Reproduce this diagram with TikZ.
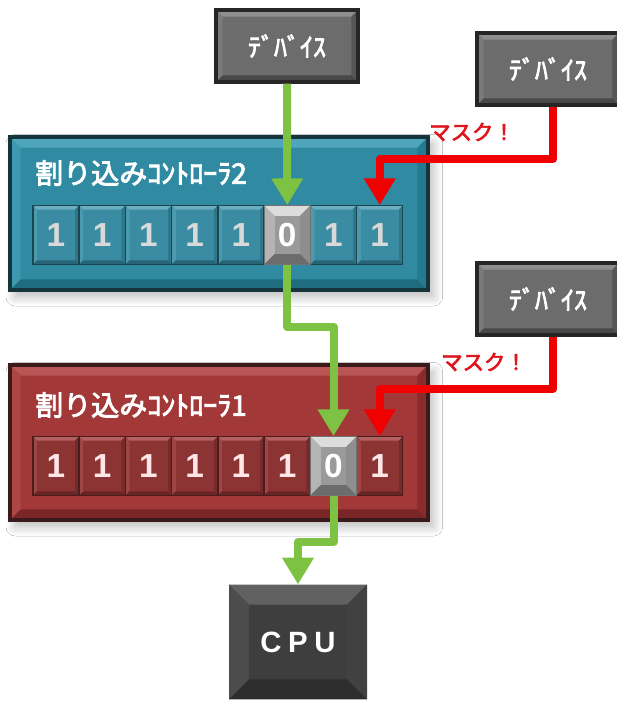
\documentclass[tikz,border=0pt]{standalone}
\usepackage{fontspec}
\setmainfont{Liberation Sans}
\newfontfamily\cjk{Noto Sans CJK JP}[FakeBold=3]
\usetikzlibrary{arrows.meta,shadows.blur}
\definecolor{devline}{HTML}{262626}
\definecolor{devface}{HTML}{6C6C6C}
\definecolor{devtop}{HTML}{8E8E8E}
\definecolor{devleft}{HTML}{7A7A7A}
\definecolor{devright}{HTML}{555555}
\definecolor{devbot}{HTML}{484848}
\definecolor{tface}{HTML}{2F8AA2}
\definecolor{ttop}{HTML}{4FA6BC}
\definecolor{tleft}{HTML}{3D99B0}
\definecolor{tright}{HTML}{257A8F}
\definecolor{tbot}{HTML}{206C7F}
\definecolor{tline}{HTML}{15343C}
\definecolor{tcface}{HTML}{3A8CA3}
\definecolor{tctop}{HTML}{6AAEC0}
\definecolor{tcleft}{HTML}{4C9AAE}
\definecolor{tcright}{HTML}{2E7689}
\definecolor{tcbot}{HTML}{276475}
\definecolor{tcline}{HTML}{1B4650}
\definecolor{rface}{HTML}{A23838}
\definecolor{rtop}{HTML}{BA5656}
\definecolor{rleft}{HTML}{AE4646}
\definecolor{rright}{HTML}{8A2C2C}
\definecolor{rbot}{HTML}{7A2626}
\definecolor{rline}{HTML}{3A1A1A}
\definecolor{rcface}{HTML}{8C3333}
\definecolor{rctop}{HTML}{B26060}
\definecolor{rcleft}{HTML}{9E4646}
\definecolor{rcright}{HTML}{772A2A}
\definecolor{rcbot}{HTML}{692424}
\definecolor{rcline}{HTML}{4A1C1C}
\definecolor{ztop}{HTML}{DCDCDC}
\definecolor{zleft}{HTML}{B4B4B4}
\definecolor{zright}{HTML}{8E8E8E}
\definecolor{zbot}{HTML}{6C6C6C}
\definecolor{zface}{HTML}{9A9A9A}
\definecolor{ctop}{HTML}{616161}
\definecolor{cleft}{HTML}{4C4C4C}
\definecolor{cright}{HTML}{414141}
\definecolor{cbot}{HTML}{2E2E2E}
\definecolor{cface}{HTML}{3E3E3E}
\definecolor{garr}{HTML}{7DC242}
\definecolor{rarr}{HTML}{F00000}
\definecolor{masktxt}{HTML}{E0141B}
\begin{document}
\begin{tikzpicture}[x=0.75pt,y=-0.75pt,
 bev/.style n args={6}{path picture={
   \coordinate (bvA) at (path picture bounding box.north west);
   \coordinate (bvB) at (path picture bounding box.north east);
   \coordinate (bvC) at (path picture bounding box.south east);
   \coordinate (bvD) at (path picture bounding box.south west);
   \coordinate (bva) at ([xshift=#1,yshift=-#1]bvA);
   \coordinate (bvb) at ([xshift=-#1,yshift=-#1]bvB);
   \coordinate (bvc) at ([xshift=-#1,yshift=#1]bvC);
   \coordinate (bvd) at ([xshift=#1,yshift=#1]bvD);
   \fill[#2] (bvA)--(bvB)--(bvb)--(bva)--cycle;
   \fill[#3] (bvA)--(bva)--(bvd)--(bvD)--cycle;
   \fill[#4] (bvB)--(bvb)--(bvc)--(bvC)--cycle;
   \fill[#5] (bvD)--(bvd)--(bvc)--(bvC)--cycle;
   \fill[#6] (bva) rectangle (bvc);
 }},
 devbox/.style={minimum width=106.5pt, minimum height=54pt, inner sep=0pt,
   draw=devline, line width=2.5pt, fill=devface,
   bev={5pt}{devtop}{devleft}{devright}{devbot}{devface},
   text=white, font=\cjk\fontsize{19.5}{20}\selectfont},
 softshadow/.style={blur shadow={shadow xshift=4pt, shadow yshift=-5pt,
   shadow blur radius=7pt, shadow blur steps=14, shadow opacity=28}},
 ctrlT/.style={minimum width=313.5pt, minimum height=114.75pt, inner sep=0pt,
   draw=tline, line width=2.5pt, fill=tface,
   bev={8pt}{ttop}{tleft}{tright}{tbot}{tface}, softshadow},
 ctrlR/.style={minimum width=313.5pt, minimum height=116.25pt, inner sep=0pt,
   draw=rline, line width=2.5pt, fill=rface,
   bev={8pt}{rtop}{rleft}{rright}{rbot}{rface}, softshadow},
 title/.style={anchor=west, inner sep=0pt, text=white, font=\cjk\fontsize{21}{22}\selectfont},
 cellT/.style={minimum width=34.5pt, minimum height=44pt, inner sep=0pt,
   draw=tcline, line width=0.8pt, fill=tcface,
   bev={3pt}{tctop}{tcleft}{tcright}{tcbot}{tcface},
   text=black!15, font=\bfseries\fontsize{25}{25}\selectfont},
 cellR/.style={minimum width=34.5pt, minimum height=44pt, inner sep=0pt,
   draw=rcline, line width=0.8pt, fill=rcface,
   bev={3pt}{rctop}{rcleft}{rcright}{rcbot}{rcface},
   text=red!10, font=\bfseries\fontsize{25}{25}\selectfont},
 zero/.style={minimum width=34.5pt, minimum height=44pt, inner sep=0pt,
   draw=black!55, line width=0.8pt, fill=zface,
   bev={8pt}{ztop}{zleft}{zright}{zbot}{zface},
   text=white, font=\bfseries\fontsize{25}{25}\selectfont},
 cpubox/.style={minimum width=103.5pt, minimum height=86pt, inner sep=0pt,
   fill=cface, bev={15pt}{ctop}{cleft}{cright}{cbot}{cface},
   text=white, font=\bfseries\fontsize{22}{22}\selectfont},
 masklbl/.style={text=masktxt, inner sep=0pt, font=\cjk\fontsize{16}{17}\selectfont},
 garrow/.style={draw=garr, line width=6pt, line join=round,
   -{Triangle[width=22.5pt,length=20pt]}},
 rarrow/.style={draw=rarr, line width=6pt, line join=round,
   -{Triangle[width=22.5pt,length=20pt]}}
]
\useasboundingbox (0,0) rectangle (617,701);
\fill[white] (0,0) rectangle (617,701);

% devices
\node[devbox] (dev1) at (287,46) {ﾃﾞﾊﾞｲｽ};
\node[devbox] (dev2) at (548,69) {ﾃﾞﾊﾞｲｽ};
\node[devbox] (dev3) at (548,299) {ﾃﾞﾊﾞｲｽ};

% controllers
\node[ctrlT] (ctrl2) at (219,213.5) {};
\node[ctrlR] (ctrl1) at (219,442.5) {};
\node[title] (t2) at (35,173) {割り込みｺﾝﾄﾛｰﾗ2};
\node[title] (t1) at (35,405) {割り込みｺﾝﾄﾛｰﾗ1};

% bits of controller 2
\foreach \i in {0,1,2,3,4,6,7}
  \node[cellT] (c2-\i) at ({33+46.25*\i+23},235) {1};
\node[zero] (c2-5) at ({33+46.25*5+23},235) {0};

% bits of controller 1
\foreach \i in {0,1,2,3,4,5,7}
  \node[cellR] (c1-\i) at ({33+46.25*\i+23},466) {1};
\node[zero] (c1-6) at ({33+46.25*6+23},466) {0};

% CPU
\node[cpubox] (cpu) at (298,642) {C\hspace{5pt}P\hspace{5pt}U};

% connectors
\draw[garrow] (dev1.south) -- (c2-5.north);
\draw[garrow] (c2-5.south) -- ++(0,62) -| (c1-6.north);
\draw[garrow] (c1-6.south) -- ++(0,46) -| (cpu.north);

\draw[rarrow] ([xshift=4pt]dev2.south) -- ++(0,52) -| (c2-7.north);
\draw[rarrow] ([xshift=4pt]dev3.south) -- ++(0,52) -| (c1-7.north);

\node[masklbl] (m1) at (472,132) {マスク！};
\node[masklbl] (m2) at (484,362) {マスク！};
\end{tikzpicture}
\end{document}
